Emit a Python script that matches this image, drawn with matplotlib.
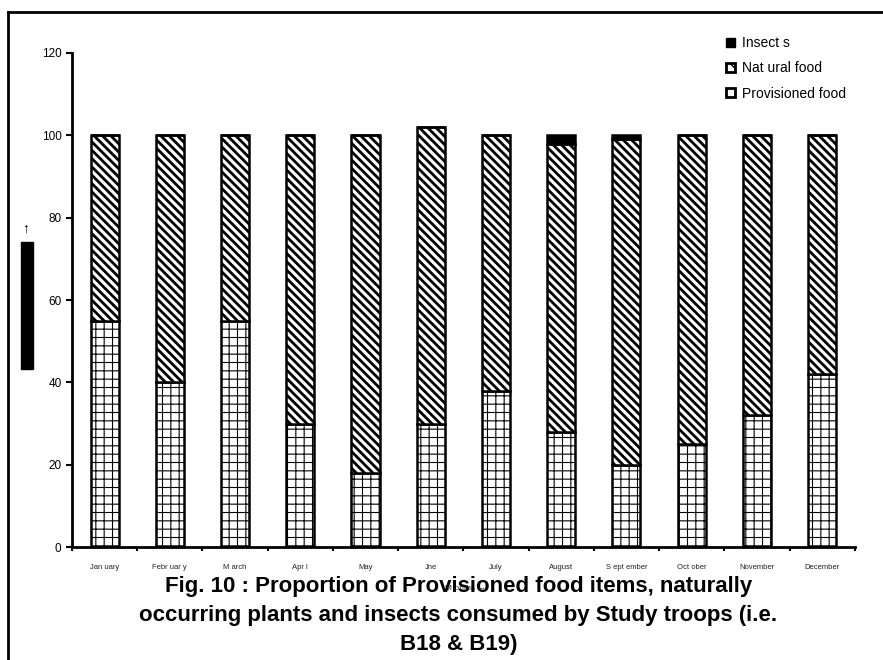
import matplotlib
matplotlib.use('Agg')
import matplotlib.pyplot as plt
from matplotlib.lines import Line2D
import numpy as np

plt.rcParams['font.family'] = ['Liberation Sans', 'DejaVu Sans']

months = ['Jan uary', 'Febr uar y', 'M arch', 'Apr l', 'May', 'Jne',
          'July', 'August', 'S ept ember', 'Oct ober', 'November', 'December']
provisioned = [55, 40, 55, 30, 18, 30, 38, 28, 20, 25, 32, 42]
natural = [45, 60, 45, 70, 82, 72, 62, 70, 79, 75, 68, 58]
insects = [0, 0, 0, 0, 0, 0, 0, 2, 1, 0, 0, 0]

x = np.arange(len(months))
width = 0.43

fig = plt.figure(figsize=(8.83, 6.6), dpi=100)
ax = fig.add_axes([0.0815, 0.1712, 0.8865, 0.7485])

with plt.rc_context({'hatch.linewidth': 0.8}):
    b1 = ax.bar(x, provisioned, width, color='white', edgecolor='black',
                linewidth=1.8, hatch='++', label='Provisioned food')
with plt.rc_context({'hatch.linewidth': 2.0}):
    b2 = ax.bar(x, natural, width, bottom=provisioned, color='white',
                edgecolor='black', linewidth=1.8, hatch='\\\\\\\\',
                label='Natural food')
bottom2 = [p + n for p, n in zip(provisioned, natural)]
b3 = ax.bar(x, insects, width, bottom=bottom2, color='black',
            edgecolor='black', linewidth=1.8, label='Insects')

ax.set_xlim(-0.5, len(months) - 0.5)
ax.set_ylim(0, 120)
ax.set_yticks(range(0, 121, 20))
ax.tick_params(axis='y', labelsize=8.5, width=1.5, length=4, direction='out')
ax.set_xticks(x)
ax.set_xticklabels(months, fontsize=5.5, color='#222222')
ax.set_xticks(np.arange(-0.5, len(months), 1), minor=True)
ax.tick_params(axis='x', which='major', length=0, pad=12)
ax.tick_params(axis='x', which='minor', length=3, width=1.5)
for s in ['top', 'right']:
    ax.spines[s].set_visible(False)
for s in ['left', 'bottom']:
    ax.spines[s].set_linewidth(2)

handles = [
    plt.Rectangle((0, 0), 1, 1, facecolor='black', edgecolor='black'),
    plt.Rectangle((0, 0), 1, 1, facecolor='white', edgecolor='black',
                  linewidth=2, hatch='\\'),
    plt.Rectangle((0, 0), 1, 1, facecolor='white', edgecolor='black',
                  linewidth=2),
]
ax.legend(handles, ['Insect s', 'Nat ural food', 'Provisioned food'],
          loc='upper left', bbox_to_anchor=(0.82, 1.059), frameon=False,
          fontsize=10, handlelength=0.6, handleheight=0.6,
          handletextpad=0.5, labelspacing=0.8)

# outer frame
fig.add_artist(Line2D([0.0095, 0.0095], [0.0, 0.982], color='black',
                      linewidth=2, transform=fig.transFigure))
fig.add_artist(Line2D([0.0095, 1.0], [0.982, 0.982], color='black',
                      linewidth=2, transform=fig.transFigure))

# y label (rendered as black box in the original)
fig.text(0.0306, 0.537, 'Percentage of food items consumed', rotation=90,
         fontsize=5.5, color='black', ha='center', va='center',
         bbox=dict(facecolor='black', edgecolor='black', pad=1.5))
fig.text(0.0295, 0.653, '\u2191', fontsize=10, fontweight='bold',
         ha='center', va='center')

fig.text(0.527, 0.108, 'M onths \u2192', fontsize=6, color='#333333',
         ha='center', va='center')

fig.text(0.519, 0.128,
         'Fig. 10 : Proportion of Provisioned food items, naturally\n'
         'occurring plants and insects consumed by Study troops (i.e.\n'
         'B18 & B19)',
         fontsize=16, fontweight='bold', ha='center', va='top',
         linespacing=1.52)

fig.savefig('out.png', dpi=100)
